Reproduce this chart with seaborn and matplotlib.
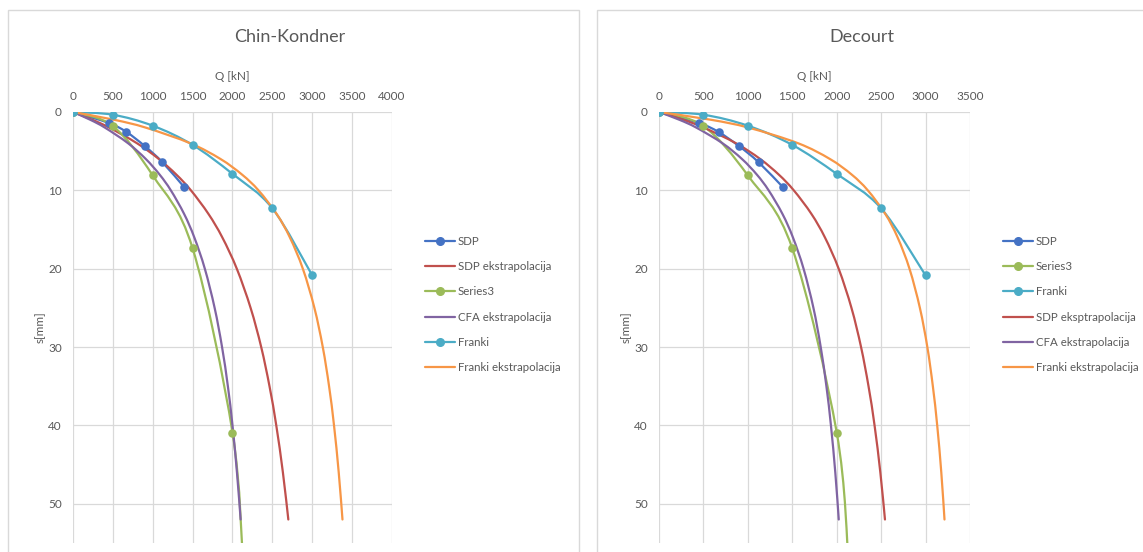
import numpy as np
import matplotlib
matplotlib.use("Agg")
import matplotlib.pyplot as plt
import seaborn as sns
from matplotlib.path import Path
from matplotlib.patches import PathPatch, Rectangle
from matplotlib.lines import Line2D

# measured series (Q in kN, s in mm)
sdp_q = [0, 450, 670, 900, 1120, 1395]
sdp_s = [0, 1.4, 2.55, 4.35, 6.4, 9.6]
s3_q = [0, 500, 1000, 1500, 2000, 2135]
s3_s = [0, 1.8, 8.1, 17.4, 40.9, 58]
franki_q = [0, 500, 1000, 1500, 2000, 2500, 3000]
franki_s = [0, 0.35, 1.75, 4.2, 7.9, 12.3, 20.85]

# extrapolated curves, Q read at these settlements
ext_s = [0, 1, 2, 4, 6, 8, 10, 13, 16, 20, 25, 30, 35, 40, 46, 52]

# Chin-Kondner
ck_sdp_q = [0, 245, 456, 804, 1077, 1297, 1479, 1698, 1872, 2054, 2227, 2360, 2464, 2549, 2632, 2700]
ck_cfa_q = [0, 218, 401, 692, 913, 1087, 1227, 1393, 1521, 1653, 1776, 1869, 1942, 2000, 2056, 2102]
ck_franki_q = [0, 520, 914, 1473, 1850, 2121, 2326, 2553, 2719, 2882, 3027, 3132, 3211, 3273, 3332, 3379]

# Decourt
dc_sdp_q = [0, 276, 506, 868, 1139, 1349, 1517, 1715, 1867, 2022, 2166, 2274, 2358, 2426, 2491, 2543]
dc_cfa_q = [0, 231, 421, 716, 934, 1102, 1234, 1389, 1507, 1627, 1738, 1820, 1884, 1935, 1984, 2023]
dc_franki_q = [0, 589, 1009, 1568, 1924, 2170, 2350, 2546, 2685, 2819, 2936, 3020, 3082, 3131, 3177, 3213]

BLUE = "#4472C4"
RED = "#C0504D"
GREEN = "#9BBB59"
PURPLE = "#8064A2"
CYAN = "#4BACC6"
ORANGE = "#F79646"
GREY_TXT = "#595959"
GRID = "#D9D9D9"

sns.set_style("white")
plt.rcParams["font.family"] = ["Lato", "DejaVu Sans"]

W, H = 1143, 552
fig = plt.figure(figsize=(W / 100, H / 100), dpi=100)


def smooth_path(x, y):
    # excel-like smoothed line (catmull-rom as bezier)
    pts = np.column_stack([x, y]).astype(float)
    n = len(pts)
    verts = [pts[0]]
    codes = [Path.MOVETO]
    for i in range(n - 1):
        p0 = pts[max(i - 1, 0)]
        p1 = pts[i]
        p2 = pts[i + 1]
        p3 = pts[min(i + 2, n - 1)]
        verts += [p1 + (p2 - p0) / 6, p2 - (p3 - p1) / 6, p2]
        codes += [Path.CURVE4] * 3
    return Path(verts, codes)


def draw_series(ax, q, s, color, markers):
    ax.add_patch(PathPatch(smooth_path(q, s), fill=False, edgecolor=color,
                           lw=1.6, capstyle="round", joinstyle="round", zorder=2))
    if markers:
        sns.scatterplot(x=q, y=s, ax=ax, color=color, s=38, linewidth=0,
                        legend=False, zorder=3)


def style_axes(ax, xmax):
    ax.set_xlim(0, xmax)
    ax.set_ylim(55, 0)
    ax.set_xticks(np.arange(0, xmax + 1, 500))
    ax.set_yticks(np.arange(0, 51, 10))
    ax.xaxis.tick_top()
    ax.xaxis.set_label_position("top")
    ax.grid(True, color=GRID, lw=0.9)
    ax.set_axisbelow(True)
    for sp in ax.spines.values():
        sp.set_visible(False)
    ax.tick_params(axis="x", length=0, pad=7, labelsize=8.5, labelcolor=GREY_TXT)
    ax.tick_params(axis="y", length=0, pad=8, labelsize=8.5, labelcolor=GREY_TXT)
    ax.set_xlabel("Q [kN]", fontsize=8.5, color=GREY_TXT, labelpad=8)
    ax.set_ylabel("s[mm]", fontsize=8.5, color=GREY_TXT, labelpad=2)


def fx(px):
    return px / W


def fy(py):
    return 1 - py / H


# panel frames
fig.add_artist(Rectangle((fx(8), -0.1), fx(579 - 8), fy(10) + 0.1, transform=fig.transFigure,
                         fill=False, edgecolor=GRID, lw=1))
fig.add_artist(Rectangle((fx(597), -0.1), fx(1160 - 597), fy(10) + 0.1, transform=fig.transFigure,
                         fill=False, edgecolor=GRID, lw=1))

# ---- Chin-Kondner
ax1 = fig.add_axes([fx(73), fy(543), fx(392 - 73), fy(112) - fy(543)])
draw_series(ax1, sdp_q, sdp_s, BLUE, True)
draw_series(ax1, ck_sdp_q, ext_s, RED, False)
draw_series(ax1, s3_q, s3_s, GREEN, True)
draw_series(ax1, ck_cfa_q, ext_s, PURPLE, False)
draw_series(ax1, franki_q, franki_s, CYAN, True)
draw_series(ax1, ck_franki_q, ext_s, ORANGE, False)
style_axes(ax1, 4000)
fig.text(fx(290), fy(37), "Chin-Kondner", ha="center", va="center", fontsize=13, color=GREY_TXT)

# ---- Decourt
ax2 = fig.add_axes([fx(659), fy(543), fx(970 - 659), fy(112) - fy(543)])
draw_series(ax2, sdp_q, sdp_s, BLUE, True)
draw_series(ax2, s3_q, s3_s, GREEN, True)
draw_series(ax2, franki_q, franki_s, CYAN, True)
draw_series(ax2, dc_sdp_q, ext_s, RED, False)
draw_series(ax2, dc_cfa_q, ext_s, PURPLE, False)
draw_series(ax2, dc_franki_q, ext_s, ORANGE, False)
style_axes(ax2, 3500)
fig.text(fx(862), fy(37), "Decourt", ha="center", va="center", fontsize=13, color=GREY_TXT)


def handle(color, marker):
    return Line2D([], [], color=color, lw=1.6, marker="o" if marker else None, markersize=5.5)


leg1 = [("SDP", BLUE, True), ("SDP ekstrapolacija", RED, False), ("Series3", GREEN, True),
        ("CFA ekstrapolacija", PURPLE, False), ("Franki", CYAN, True),
        ("Franki ekstrapolacija", ORANGE, False)]
leg2 = [("SDP", BLUE, True), ("Series3", GREEN, True), ("Franki", CYAN, True),
        ("SDP eksptrapolacija", RED, False), ("CFA ekstrapolacija", PURPLE, False),
        ("Franki ekstrapolacija", ORANGE, False)]

for items, x0 in [(leg1, 425), (leg2, 1003)]:
    fig.legend([handle(c, m) for _, c, m in items], [t for t, _, _ in items],
               loc="upper left", bbox_to_anchor=(fx(x0), fy(236)), frameon=False,
               fontsize=8.3, labelcolor=GREY_TXT, handlelength=2.6, handletextpad=0.25,
               labelspacing=1.23, borderpad=0, borderaxespad=0)

fig.savefig("out.png", dpi=100)
